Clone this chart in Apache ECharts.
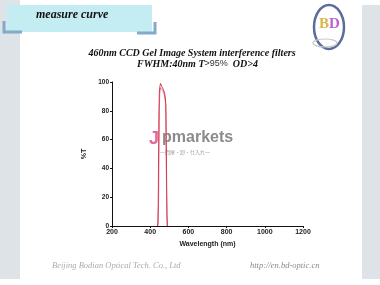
<!DOCTYPE html>
<html><head><meta charset="utf-8">
<script src="https://cdn.jsdelivr.net/npm/echarts@6/dist/echarts.min.js"></script>
<style>html,body{margin:0;padding:0;background:#fff}#c{width:380px;height:285px}</style>
</head><body><div id="c"></div>
<script>
// Scan 1 (outer trace)
const wavelength1 = [438, 440, 442, 444, 446, 448, 451, 454, 457, 460, 464, 468, 472, 476, 479, 482, 484, 486, 488, 490];
const transmit1   = [0,   2,   15,  50,  80,  93,  97,  99,  98,  97,  96,  95,  94,  92,  89,  84,  60,  30,  8,   0];
// Scan 2 (inner trace)
const wavelength2 = [440, 442, 444, 446, 448, 450, 453, 456, 459, 462, 466, 470, 474, 478, 481, 483, 485, 487, 489];
const transmit2   = [0,   2,   20,  55,  82,  92,  96,  97,  96,  95,  94,  93,  91,  88,  84,  60,  30,  8,   0];
const xTicks = [200, 400, 600, 800, 1000, 1200];
const yTicks = [0, 20, 40, 60, 80, 100];

const chart = echarts.init(document.getElementById('c'), null, {renderer: 'canvas'});
const serif = '"Liberation Serif", "DejaVu Serif", serif';
const sans = '"Liberation Sans", Arial, sans-serif';
const toPairs = (xs, ys) => xs.map((x, i) => [x, ys[i]]);

chart.setOption({
  backgroundColor: '#ffffff',
  animation: false,
  grid: {left: 112, right: 77, top: 82, bottom: 59},
  xAxis: {
    type: 'value', min: 200, max: 1200, interval: 200,
    name: 'Wavelength (nm)', nameLocation: 'middle', nameGap: 13,
    nameTextStyle: {fontFamily: sans, fontWeight: 'bold', fontSize: 7, color: '#222'},
    axisLine: {show: true, lineStyle: {color: '#111', width: 1}},
    axisTick: {show: true, length: 2, lineStyle: {color: '#111'}},
    axisLabel: {fontFamily: sans, fontWeight: 'bold', fontSize: 7, color: '#222', margin: 3,
      formatter: v => xTicks.includes(v) ? String(v) : ''},
    splitLine: {show: false}, z: 5
  },
  yAxis: {
    type: 'value', min: 0, max: 100, interval: 20,
    name: '%T', nameLocation: 'middle', nameGap: 17, nameRotate: 90,
    nameTextStyle: {fontFamily: sans, fontWeight: 'bold', fontSize: 7, color: '#222'},
    axisLine: {show: true, lineStyle: {color: '#111', width: 1}},
    axisTick: {show: true, length: 2, lineStyle: {color: '#111'}},
    axisLabel: {fontFamily: sans, fontWeight: 'bold', fontSize: 6.5, color: '#222', margin: 3,
      formatter: v => yTicks.includes(v) ? String(v) : ''},
    splitLine: {show: false}
  },
  series: [
    {type: 'line', data: toPairs(wavelength1, transmit1), showSymbol: false, smooth: false,
      lineStyle: {color: '#d23a50', width: 1}, z: 3},
    {type: 'line', data: toPairs(wavelength2, transmit2), showSymbol: false, smooth: false,
      lineStyle: {color: '#e06070', width: 0.8}, z: 2}
  ],
  graphic: [
    // side panels
    {type: 'rect', left: 0, top: 0, shape: {width: 20, height: 279}, style: {fill: '#dde3e6'}, z: -10},
    {type: 'rect', left: 362, top: 5, shape: {width: 18, height: 274}, style: {fill: '#dde3e6'}, z: -10},
    // header box
    {type: 'rect', left: 7, top: 5, shape: {width: 145, height: 27}, style: {fill: '#c4ecf3'}, z: -5},
    {type: 'polyline', shape: {points: [[4, 21], [4, 32], [22, 32]]}, style: {stroke: '#82aacb', lineWidth: 3, fill: null}},
    {type: 'polyline', shape: {points: [[137, 33], [155, 33], [155, 22]]}, style: {stroke: '#82aacb', lineWidth: 3, fill: null}},
    {type: 'text', x: 36, y: 9, style: {text: 'measure curve', font: 'italic bold 12px ' + serif, fill: '#111'}},
    // titles
    {type: 'text', x: 192, y: 48, style: {text: '460nm CCD Gel Image System interference filters', font: 'italic bold 10px ' + serif, fill: '#111', align: 'center'}},
    {type: 'text', x: 137, y: 59, style: {
      text: '{a|FWHM:40nm T}{b|>95%}{a|  OD>4}',
      rich: {a: {font: 'italic bold 10px ' + serif, fill: '#111'}, b: {font: '9px ' + sans, fill: '#333'}}}},
    // logo
    {type: 'ellipse', shape: {cx: 329, cy: 27, rx: 15, ry: 22}, style: {fill: 'none', stroke: '#5b6d9c', lineWidth: 2.5}},
    {type: 'ellipse', shape: {cx: 325, cy: 43, rx: 12, ry: 4}, style: {fill: 'none', stroke: '#c8c8c8', lineWidth: 1.2}},
    {type: 'text', x: 319, y: 17, style: {
      text: '{b|B}{d|D}',
      rich: {b: {font: 'bold 15px ' + serif, fill: '#d9b64a'}, d: {font: 'bold 15px ' + serif, fill: '#c05ed0'}}}},
    // watermark
    {type: 'text', x: 149, y: 130, style: {text: 'J', font: 'bold 18px ' + sans, fill: '#e4689a'}},
    {type: 'text', x: 162, y: 130, style: {text: 'pmarkets', font: 'bold 16px ' + sans, fill: '#8c8c8c'}},
    {type: 'text', x: 160, y: 150, style: {text: '一問屋・卸・仕入れ一', font: '5px "Noto Sans CJK JP", sans-serif', fill: '#a0a0a0'}},
    // footer
    {type: 'text', x: 52, y: 261, style: {text: 'Beijing Bodian Optical Tech. Co., Ltd', font: 'italic 8.5px ' + serif, fill: '#ababab'}},
    {type: 'text', x: 250, y: 261, style: {text: 'http://en.bd-optic.cn', font: 'italic 8.5px ' + serif, fill: '#8a8a8a'}}
  ]
});
</script></body></html>
